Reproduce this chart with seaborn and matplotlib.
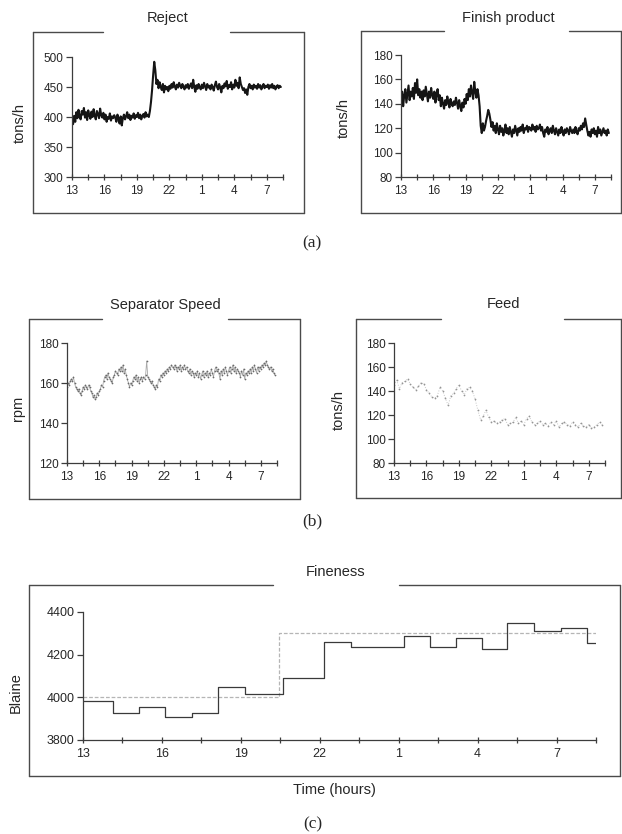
import numpy as np
import pandas as pd
import matplotlib
matplotlib.use("Agg")
import matplotlib.pyplot as plt
from matplotlib.lines import Line2D
import seaborn as sns

# ---------------------------------------------------------------- data
hour_ticks = [13, 16, 19, 22, 25, 28, 31]
hour_labels = ["13", "16", "19", "22", "1", "4", "7"]

# Reject flow (tons/h), sampled every 0.1 h from 13:00
reject_start, reject_step = 13.0, 0.1
reject = [
    395, 388, 402, 392, 408, 398, 412, 401, 396, 410,
    404, 415, 399, 408, 395, 411, 403, 397, 409, 400,
    413, 402, 396, 410, 405, 398, 414, 403, 399, 407,
    396, 404, 392, 400, 397, 406, 394, 401, 398, 403,
    399, 392, 404, 397, 389, 401, 386, 398, 404, 396,
    401, 408, 398, 404, 395, 402, 399, 406, 397, 403,
    400, 407, 398, 404, 396, 402, 405, 399, 408, 401,
    404, 400, 410, 425, 445, 470, 492, 478, 455, 462,
    448, 458, 450, 445, 455, 441, 452, 446, 450, 443,
    452, 447, 455, 449, 458, 451, 446, 454, 449, 457,
    452, 448, 455, 450, 446, 453, 449, 455, 447, 452,
    456, 448, 462, 450, 442, 453, 447, 455, 450, 446,
    454, 448, 457, 451, 445, 455, 449, 452, 446, 454,
    450, 444, 453, 459, 450, 446, 455, 449, 441, 452,
    448, 456, 451, 460, 447, 453, 450, 458, 446, 454,
    449, 462, 452, 457, 448, 466, 455, 450, 445, 448,
    440, 446, 437, 450, 455, 448, 452, 446, 454, 449,
    452, 447, 455, 449, 453, 446, 451, 455, 448, 452,
    450, 454, 447, 453, 449, 455, 448, 452, 446, 451,
    453, 448, 452, 450,
]

# Finish product flow (tons/h), every 0.1 h
finish_start, finish_step = 13.0, 0.1
finish = [
    142, 150, 138, 147, 152, 141, 148, 155, 143, 150,
    146, 153, 144, 157, 149, 160, 147, 152, 145, 150,
    143, 151, 146, 154, 148, 142, 150, 145, 153, 147,
    144, 150, 141, 148, 152, 143, 147, 138, 145, 140,
    136, 143, 139, 146, 141, 137, 144, 140, 138, 142,
    139, 145, 141, 136, 143, 138, 134, 141, 137, 144,
    140, 148, 143, 152, 146, 155, 149, 144, 158, 150,
    145, 152, 147, 138, 122, 116, 124, 118, 121, 126,
    130, 135, 132, 127, 121, 125, 118, 122, 116, 124,
    119, 115, 122, 117, 120, 114, 118, 123, 116, 120,
    115, 121, 117, 113, 119, 116, 122, 118, 114, 120,
    117, 121, 118, 123, 116, 120, 119, 122, 117, 121,
    120, 118, 123, 119, 121, 117, 122, 119, 120, 123,
    118, 121, 116, 113, 119, 117, 121, 115, 118, 120,
    116, 122, 118, 115, 120, 117, 114, 119, 116, 121,
    117, 114, 119, 116, 120, 118, 115, 121, 118, 116,
    119, 116, 121, 117, 115, 120, 118, 122, 119, 124,
    121, 128, 123, 118, 114, 117, 113, 119, 116, 120,
    115, 118, 113, 121, 116, 119, 114, 117, 120, 116,
    118, 114, 119, 116,
]

# Separator speed (rpm), every 0.1 h
speed_start, speed_step = 13.0, 0.1
speed = [
    158, 160, 159, 161, 162, 161, 163, 160, 158, 157,
    156, 157, 155, 154, 156, 158, 157, 159, 158, 157,
    159, 158, 156, 155, 153, 154, 152, 153, 155, 154,
    156, 157, 159, 158, 161, 163, 164, 162, 165, 163,
    162, 161, 160, 163, 164, 166, 165, 164, 167, 166,
    168, 166, 169, 165, 167, 164, 162, 160, 158, 160,
    159, 161, 163, 162, 164, 161, 163, 160, 162, 163,
    161, 163, 162, 164, 171, 163, 162, 161, 160, 161,
    159, 158, 157, 159, 158, 162, 161, 164, 163, 165,
    164, 166, 165, 167, 166, 168, 167, 169, 168, 167,
    169, 168, 166, 168, 167, 169, 166, 168, 167, 169,
    167, 168, 166, 165, 167, 164, 166, 165, 163, 165,
    164, 166, 163, 165, 162, 164, 166, 163, 165, 164,
    166, 163, 165, 164, 167, 165, 163, 166, 168, 166,
    167, 165, 162, 166, 164, 167, 165, 168, 166, 164,
    166, 168, 165, 167, 169, 166, 168, 165, 167, 166,
    165, 163, 166, 164, 167, 162, 165, 164, 166, 165,
    167, 165, 168, 166, 169, 167, 165, 168, 166, 168,
    167, 169, 168, 170, 169, 171, 169, 168, 167, 168,
    166, 167, 165, 164,
]

# Fresh feed (tons/h), every 0.25 h
feed_start, feed_step = 13.0, 0.25
feed = [
    145, 149, 142, 147,
    148, 150, 146, 143,
    141, 144, 147, 146,
    141, 138, 135, 134,
    136, 143, 140, 134,
    128, 136, 138, 142,
    145, 140, 137, 142,
    143, 140, 133, 124,
    116, 119, 124, 118,
    114, 115, 113, 114,
    116, 117, 112, 113,
    114, 118, 113, 115,
    112, 117, 119, 114,
    112, 113, 115, 112,
    113, 111, 114, 112,
    115, 110, 113, 114,
    112, 111, 114, 112,
    110, 113, 111, 110,
    112, 109, 110, 112,
    114, 112,
]

# Fineness (Blaine): laboratory samples (step) and set point
fine_lab_t = [13.0, 14.15, 15.14, 16.13, 17.15, 18.15, 19.15, 20.6, 22.17,
              23.2, 25.2, 26.2, 27.17, 28.17, 29.1, 30.15, 31.17, 32.15, 32.55]
fine_lab = [3985, 3925, 3956, 3909, 3925, 4048, 4016, 4090, 4260,
            4236, 4287, 4236, 4278, 4225, 4348, 4310, 4325, 4255, 4255]
fine_sp_t = [13.0, 20.45, 32.5]
fine_sp = [4000, 4300, 4300]

# ---------------------------------------------------------------- figure
W, H = 622, 834
sns.set_style("ticks")
plt.rcParams["font.family"] = ["Liberation Sans", "DejaVu Sans"]
fig = plt.figure(figsize=(W / 100, H / 100), dpi=100)
fig.patch.set_facecolor("white")

AX_COLOR = "#3c3c3c"


def add_axes(left, top, right, bottom):
    return fig.add_axes([left / W, 1 - bottom / H, (right - left) / W, (bottom - top) / H])


def frame(left, top, right, bottom, gap_l, gap_r):
    segs = [
        ([left, gap_l], [top, top]),
        ([gap_r, right], [top, top]),
        ([left, left], [top, bottom]),
        ([right, right], [top, bottom]),
        ([left, right], [bottom, bottom]),
    ]
    for xs, ys in segs:
        fig.add_artist(Line2D([x / W for x in xs], [1 - y / H for y in ys],
                              transform=fig.transFigure, color="#4a4a4a", lw=1.0))


def ftext(x, y, s, **kw):
    fig.text(x / W, 1 - y / H, s, ha="center", va="center", **kw)


def style_axes(ax, yticks, ylim, xlim=(13, 32.5), size=8.5):
    ax.set_xlim(*xlim)
    ax.set_ylim(*ylim)
    ax.set_xticks(hour_ticks)
    ax.set_xticklabels(hour_labels)
    ax.set_xticks(np.arange(14.5, 32.6, 3.0), minor=True)
    ax.set_yticks(yticks)
    ax.tick_params(axis="x", which="both", direction="inout", length=5, width=0.9,
                   color=AX_COLOR, labelsize=size, pad=3)
    ax.tick_params(axis="y", direction="out", length=4, width=0.9,
                   color=AX_COLOR, labelsize=size, pad=2)
    for s in ("top", "right"):
        ax.spines[s].set_visible(False)
    for s in ("left", "bottom"):
        ax.spines[s].set_color(AX_COLOR)
        ax.spines[s].set_linewidth(0.9)
    ax.set_xlabel("")
    ax.set_ylabel("")
    ax.set_facecolor("none")


def series(start, step, values):
    t = start + step * np.arange(len(values))
    return pd.DataFrame({"t": t, "v": values})


# ---- (a) Reject
ax = add_axes(72, 57, 283, 177)
sns.lineplot(data=series(reject_start, reject_step, reject), x="t", y="v", ax=ax,
             color="#151515", lw=1.5, estimator=None)
style_axes(ax, [300, 350, 400, 450, 500], (300, 500))
frame(33, 32, 304, 213, 103, 230)
ftext(168, 18, "Reject", fontsize=10.5)
ftext(20, 123, "tons/h", fontsize=10.5, rotation=90)

# ---- (a) Finish product
ax = add_axes(401, 55, 611, 177)
sns.lineplot(data=series(finish_start, finish_step, finish), x="t", y="v", ax=ax,
             color="#151515", lw=1.5, estimator=None)
style_axes(ax, [80, 100, 120, 140, 160, 180], (80, 180))
frame(361, 31, 621, 213, 444, 569)
ftext(508, 18, "Finish product", fontsize=10.5)
ftext(344, 118, "tons/h", fontsize=10.5, rotation=90)

ftext(312, 243, "(a)", fontsize=12.5, family=["Liberation Serif", "DejaVu Serif"])

# ---- (b) Separator speed
ax = add_axes(67, 343, 277, 463)
sns.lineplot(data=series(speed_start, speed_step, speed), x="t", y="v", ax=ax,
             color="#a8a8a8", lw=0.6, marker=".", markersize=2.5,
             markeredgewidth=0, markerfacecolor="#6a6a6a", estimator=None)
style_axes(ax, [120, 140, 160, 180], (120, 180))
frame(29, 319, 300, 499, 102, 228)
ftext(165, 305, "Separator Speed", fontsize=10.5)
ftext(18, 408, "rpm", fontsize=10.5, rotation=90)

# ---- (b) Feed
ax = add_axes(394, 343, 605, 463)
sns.lineplot(data=series(feed_start, feed_step, feed), x="t", y="v", ax=ax,
             color="#c8c8c8", lw=0.7, linestyle=":", marker=".", markersize=2.5,
             markeredgewidth=0, markerfacecolor="#959595", estimator=None)
style_axes(ax, [80, 100, 120, 140, 160, 180], (80, 180))
frame(356, 319, 621, 498, 441, 564)
ftext(503, 304, "Feed", fontsize=10.5)
ftext(339, 410, "tons/h", fontsize=10.5, rotation=90)

ftext(312, 521, "(b)", fontsize=12.5, family=["Liberation Serif", "DejaVu Serif"])

# ---- (c) Fineness
ax = add_axes(83, 612, 596, 740)
sns.lineplot(x=fine_sp_t, y=fine_sp, ax=ax, color="#b5b5b5", lw=0.9,
             linestyle=(0, (3, 1.5)), drawstyle="steps-post", estimator=None)
sns.lineplot(x=fine_lab_t, y=fine_lab, ax=ax, color="#3a3a3a", lw=0.9,
             drawstyle="steps-post", estimator=None)
style_axes(ax, [3800, 4000, 4200, 4400], (3800, 4400), size=9)
frame(29, 585, 620, 776, 273, 399)
ftext(336, 572, "Fineness", fontsize=10.5)
ftext(16, 693, "Blaine", fontsize=10.5, rotation=90)
ftext(334, 790, "Time (hours)", fontsize=10.5)

ftext(313, 824, "(c)", fontsize=12.5, family=["Liberation Serif", "DejaVu Serif"])

fig.savefig("out.png", dpi=100, facecolor="white")
